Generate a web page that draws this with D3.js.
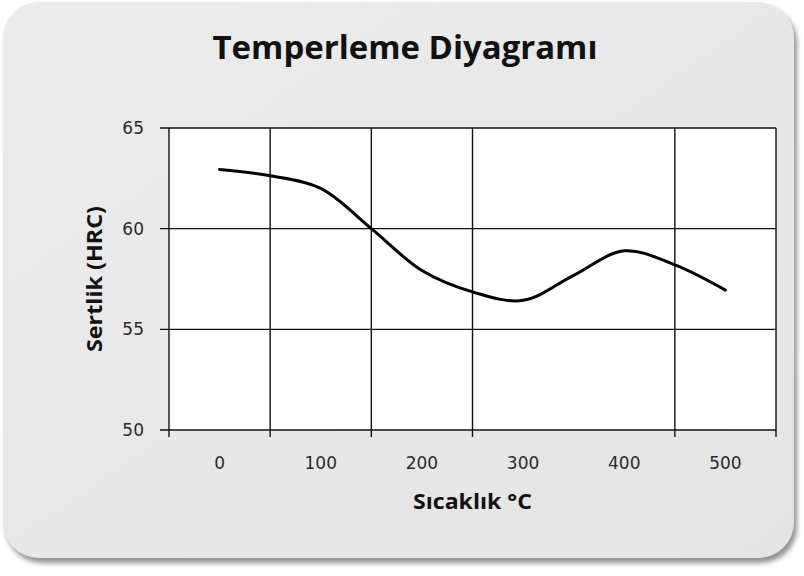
<!DOCTYPE html>
<html>
<head>
<meta charset="utf-8">
<script src="https://cdn.jsdelivr.net/npm/d3@7"></script>
<style>
  html, body { margin: 0; padding: 0; background: #fff; }
  svg { display: block; }
</style>
</head>
<body>
<div id="chart-area"></div>
<script>
// tempering curve
var temps = [0, 50, 100, 150, 200, 250, 300, 350, 400, 450, 500];
var hardness = [62.94, 62.63, 62.0, 60.0, 57.92, 56.86, 56.44, 57.68, 58.9, 58.2, 56.95];

var xLabels = [0, 100, 200, 300, 400, 500];
var xGrid = [-50, 50, 150, 250, 450, 550];   // no line at 350 in the original
var yTicks = [50, 55, 60, 65];

var W = 804, H = 576;

var svg = d3.select("#chart-area").append("svg")
    .attr("width", W)
    .attr("height", H);

var defs = svg.append("defs");
var f = defs.append("filter").attr("id", "shadow")
    .attr("x", "-5%").attr("y", "-5%").attr("width", "110%").attr("height", "110%");
f.append("feDropShadow")
    .attr("dx", 3).attr("dy", 5)
    .attr("stdDeviation", 2.5)
    .attr("flood-color", "#777")
    .attr("flood-opacity", 0.8);

var grad = defs.append("linearGradient").attr("id", "cardFill")
    .attr("x1", 0).attr("y1", 0).attr("x2", 1).attr("y2", 1);
grad.append("stop").attr("offset", "0%").attr("stop-color", "#ececec");
grad.append("stop").attr("offset", "100%").attr("stop-color", "#e4e4e4");

// card
svg.append("rect")
    .attr("x", 3).attr("y", 2)
    .attr("width", 791).attr("height", 556)
    .attr("rx", 36).attr("ry", 36)
    .attr("fill", "url(#cardFill)")
    .attr("filter", "url(#shadow)");

var x = d3.scaleLinear().domain([-50, 550]).range([169, 776]);
var y = d3.scaleLinear().domain([50, 65]).range([430, 128]);

// plot area
svg.append("rect")
    .attr("x", x(-50)).attr("y", y(65))
    .attr("width", x(550) - x(-50))
    .attr("height", y(50) - y(65))
    .attr("fill", "#fff");

var grid = svg.append("g")
    .attr("stroke", "#111")
    .attr("stroke-width", 1.4);

grid.selectAll(".vline")
    .data(xGrid)
    .enter()
    .append("line")
        .attr("x1", (d) => x(d)).attr("x2", (d) => x(d))
        .attr("y1", y(65)).attr("y2", y(50) + 7);

grid.selectAll(".hline")
    .data(yTicks)
    .enter()
    .append("line")
        .attr("x1", x(-50) - 9).attr("x2", x(550))
        .attr("y1", (d) => y(d)).attr("y2", (d) => y(d));

// tick labels
svg.selectAll(".ylab")
    .data(yTicks)
    .enter()
    .append("text")
        .attr("x", 144)
        .attr("y", (d) => y(d))
        .attr("dy", "0.36em")
        .attr("text-anchor", "end")
        .attr("font-family", "DejaVu Sans")
        .attr("font-size", 17)
        .attr("fill", "#2a2a2a")
        .text((d) => d);

svg.selectAll(".xlab")
    .data(xLabels)
    .enter()
    .append("text")
        .attr("x", (d) => x(d))
        .attr("y", 469)
        .attr("text-anchor", "middle")
        .attr("font-family", "DejaVu Sans")
        .attr("font-size", 17)
        .attr("fill", "#2a2a2a")
        .text((d) => d);

// curve
var pts = temps.map((t, i) => [t, hardness[i]]);
var line = d3.line()
    .x((d) => x(d[0]))
    .y((d) => y(d[1]))
    .curve(d3.curveCatmullRom.alpha(0.5));

svg.append("path")
    .datum(pts)
    .attr("d", line)
    .attr("fill", "none")
    .attr("stroke", "#000")
    .attr("stroke-width", 3)
    .attr("stroke-linecap", "round");

// titles
svg.append("text")
    .attr("x", 405).attr("y", 59)
    .attr("text-anchor", "middle")
    .attr("font-family", "Open Sans")
    .attr("font-weight", "bold")
    .attr("font-size", 32)
    .attr("textLength", 385)
    .attr("lengthAdjust", "spacingAndGlyphs")
    .attr("fill", "#111")
    .text("Temperleme Diyagramı");

svg.append("text")
    .attr("x", (x(-50) + x(550)) / 2).attr("y", 509)
    .attr("text-anchor", "middle")
    .attr("font-family", "Open Sans")
    .attr("font-weight", "bold")
    .attr("font-size", 21)
    .attr("textLength", 119)
    .attr("lengthAdjust", "spacingAndGlyphs")
    .attr("fill", "#111")
    .text("Sıcaklık °C");

svg.append("text")
    .attr("transform", "translate(102," + ((y(50) + y(65)) / 2) + ") rotate(-90)")
    .attr("text-anchor", "middle")
    .attr("font-family", "Open Sans")
    .attr("font-weight", "bold")
    .attr("font-size", 21)
    .attr("textLength", 146)
    .attr("lengthAdjust", "spacingAndGlyphs")
    .attr("fill", "#111")
    .text("Sertlik (HRC)");
</script>
</body>
</html>
